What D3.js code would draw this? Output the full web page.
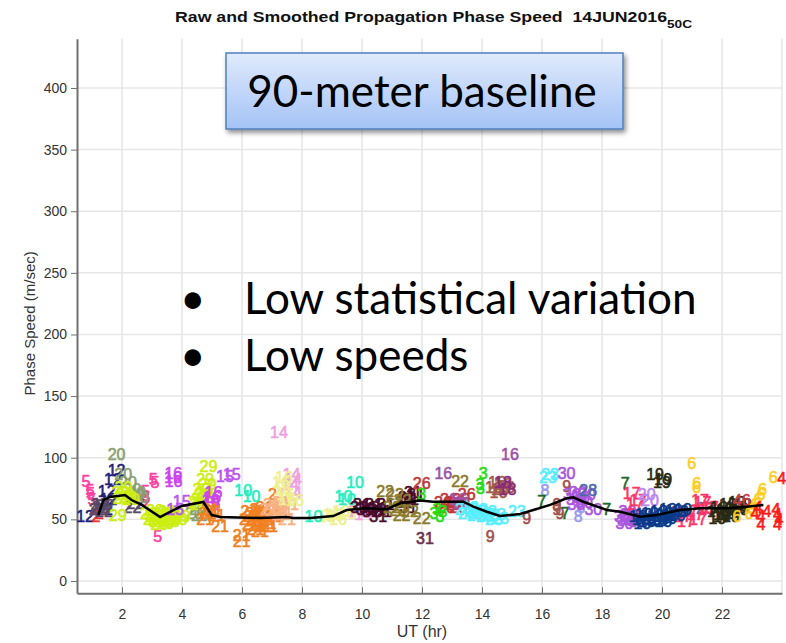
<!DOCTYPE html>
<html>
<head>
<meta charset="utf-8">
<script src="https://cdn.jsdelivr.net/npm/d3@7"></script>
<style>
  body { margin: 0; background: #fff; }
  svg { display: block; }
</style>
</head>
<body>
<div id="chart"></div>
<script>
// chart values
const xTicks = [2, 4, 6, 8, 10, 12, 14, 16, 18, 20, 22];
const yTicks = [0, 50, 100, 150, 200, 250, 300, 350, 400];

// smoothed phase speed (black line)
const smoothTime = [1.21, 1.38, 1.6, 2.1, 2.32, 2.66, 3.27, 3.6, 3.99, 4.71, 4.99, 5.27, 6.6, 7.49, 7.7, 8.27,
  9.04, 9.49, 10.16, 10.82, 11.27, 11.93, 12.38, 13.38, 13.71, 14.16, 14.6, 15.27, 15.71, 16.27,
  16.82, 17.04, 17.38, 18.16, 18.6, 19.27, 19.82, 20.6, 21.27, 22.16, 22.82, 23.38];
const smoothSpeed = [53.5, 65.7, 68.2, 69.8, 65.7, 61.7, 51.9, 56, 60.9, 64.1, 53.5, 51.9, 51.1, 51.9, 51.1, 51.1,
  52.7, 57.6, 59, 58.2, 63, 65.2, 64.3, 64.3, 60.3, 56.2, 52.7, 54.4, 57.6, 61.7,
  67.1, 67.9, 64.3, 57.6, 56.2, 52.2, 53.5, 57.6, 59, 59, 60.3, 61.7];

// raw speeds, one list of [UT hr, m/s] per plotted label
const seriesLabels = ["12", "2", "5", "22", "20", "29", "16", "15", "21", "21", "14", "16", "10", "31", "22", "31",
  "26", "3", "16", "16", "18", "23", "9", "8", "7", "30", "28", "17", "20", "19", "19", "6", "46", "4"];
const seriesPoints = [
  [[0.77, 52.7], [1.49, 72.5], [1.7, 82], [1.82, 90], [1.3, 62], [1.4, 58], [1.55, 66]],
  [[1.13, 52.7], [1.25, 55], [1.05, 58]],
  [[0.8, 80.6], [0.93, 73.8], [0.95, 70.6], [1.0, 66], [3.04, 82], [3.1, 80], [2.77, 72.5], [2.72, 65], [2.8, 68], [3.19, 36]],
  [[1.2, 58], [1.3, 60], [1.4, 56], [1.45, 61], [1.25, 62], [2.35, 60], [2.45, 63]],
  [[1.82, 102.8], [2.04, 86], [2.2, 80], [2.35, 74], [2.5, 72], [2.45, 70], [2.6, 68], [4.4, 55], [4.5, 58], [4.6, 53]],
  [[1.86, 53.5], [1.95, 72], [2.05, 76], [2.1, 70], [2.2, 68], [2.3, 66], [2.0, 67], [2.9, 55], [3.0, 50], [3.1, 52],
   [3.2, 48], [3.3, 50], [3.4, 52], [3.5, 49], [3.6, 54], [3.7, 51], [3.8, 55], [3.99, 52], [3.1, 57], [3.3, 55],
   [3.5, 56], [3.05, 54], [3.9, 50], [4.6, 66], [4.7, 70], [4.65, 74], [4.75, 72], [4.8, 68], [4.55, 62],
   [4.88, 92.7], [4.77, 82], [4.85, 78], [3.25, 46], [3.45, 47], [3.65, 48], [3.15, 50], [3.55, 52], [4.5, 64]],
  [[3.71, 87.4], [3.72, 80.6], [3.7, 84], [4.95, 65], [5.0, 68], [5.05, 72], [4.98, 62]],
  [[3.77, 57.6], [3.99, 64.3], [5.43, 84.6], [5.66, 86]],
  [[4.77, 49.5], [5.27, 44.6], [4.85, 55], [4.95, 58], [5.05, 56], [5.15, 53], [5.99, 37.3], [5.99, 32], [7.16, 69.8],
   [6.2, 50], [6.3, 46], [6.4, 55], [6.5, 52], [6.6, 48], [6.7, 56], [6.8, 50], [6.9, 44], [7.0, 54], [6.45, 42],
   [6.55, 58], [6.75, 60], [6.35, 52], [6.85, 47], [7.1, 52], [6.6, 40], [6.25, 56], [6.5, 45], [6.7, 44], [6.4, 49]],
  [[6.9, 58], [7.0, 62], [7.1, 56], [7.2, 60], [7.3, 54], [7.4, 58], [7.5, 50], [7.3, 64], [7.6, 62]],
  [[7.23, 120.7], [7.6, 78], [7.7, 82], [7.7, 72], [7.65, 86], [9.8, 56], [9.95, 60], [10.05, 54]],
  [[7.3, 80], [7.4, 84], [7.35, 74], [7.45, 70], [7.77, 65.7], [7.5, 66], [8.8, 52], [9.0, 54], [9.2, 50], [9.3, 56], [9.1, 53], [9.5, 55]],
  [[6.04, 73.8], [6.32, 68.4], [8.38, 52.2], [9.77, 79.8], [9.38, 68.4], [9.5, 66]],
  [[9.9, 60], [10.0, 62], [10.1, 58], [10.2, 60], [10.3, 56], [10.4, 62], [10.5, 58], [10.6, 60], [10.54, 52.7], [10.7, 56],
   [10.8, 62], [11.4, 64], [11.5, 68], [11.6, 66], [11.7, 72], [11.8, 70], [11.55, 60]],
  [[10.77, 73], [11.1, 69.8], [11.35, 65], [11.32, 53.5], [11.0, 60], [11.99, 50.9], [11.2, 57], [13.27, 80.6], [11.6, 56]],
  [[12.1, 34.6]],
  [[11.99, 79.3], [12.7, 64], [12.8, 60], [12.9, 66], [13.0, 62], [13.1, 64], [13.2, 60], [13.49, 69.8], [13.3, 66]],
  [[11.99, 69.8], [12.4, 55], [12.5, 58], [12.6, 52], [12.7, 56], [14.04, 87.4], [13.93, 78], [13.95, 75]],
  [[12.71, 87.4], [14.93, 102.8], [13.2, 66], [13.3, 63]],
  [[14.4, 76], [14.5, 80], [14.6, 74], [14.7, 78], [14.8, 76], [14.55, 72]],
  [[14.7, 80], [14.85, 74]],
  [[13.4, 58], [13.5, 55], [13.6, 60], [13.7, 56], [13.8, 53], [13.9, 58], [14.0, 55], [14.1, 52], [14.2, 56], [14.3, 53],
   [14.4, 50], [14.5, 54], [14.6, 51], [15.16, 56.2], [16.27, 86], [16.2, 84]],
  [[14.27, 36], [15.49, 50.9], [16.49, 57.6], [16.5, 62], [16.82, 76.5], [16.6, 55]],
  [[16.1, 73.8], [17.21, 52.2], [17.3, 60]],
  [[15.99, 64.3], [16.77, 55], [18.16, 57.6], [18.77, 79.3]],
  [[16.82, 87.4], [17.71, 57.6], [17.0, 70], [17.1, 66], [17.2, 72], [17.3, 68], [17.4, 64], [17.5, 70], [17.15, 62],
   [18.7, 52], [18.8, 49], [18.9, 54], [19.0, 50], [19.1, 52], [19.2, 48], [18.85, 56], [18.75, 47]],
  [[17.54, 73.8], [21.43, 59]],
  [[18.99, 71.2], [19.21, 65.7], [19.1, 62], [20.5, 55], [20.7, 52], [20.9, 56], [21.1, 54], [21.27, 65.7], [21.35, 64],
   [21.5, 58], [21.6, 60], [21.2, 50], [20.8, 48]],
  [[19.49, 69.8], [19.6, 65.7]],
  [[19.2, 52], [19.3, 50], [19.4, 54], [19.5, 51], [19.6, 55], [19.7, 50], [19.8, 53], [19.9, 56], [20.0, 52], [20.1, 55],
   [20.2, 51], [20.3, 54], [20.4, 57], [20.5, 53], [20.6, 56], [19.5, 48], [19.9, 49], [20.2, 58], [19.35, 47], [20.05, 48], [20.7, 58]],
  [[19.77, 86], [20.04, 82], [20.0, 80], [21.8, 56], [21.9, 60], [22.0, 54], [22.1, 58], [22.2, 62], [22.3, 56], [22.4, 60],
   [22.5, 64], [22.6, 58], [22.7, 62], [22.0, 52], [22.3, 52], [21.85, 51], [22.15, 55], [22.55, 60]],
  [[20.99, 95.5], [21.16, 79.3], [21.15, 76], [22.9, 55], [23.0, 58], [23.1, 62], [23.2, 66], [23.3, 70], [23.35, 74], [23.71, 84.1], [22.5, 52]],
  [[22.66, 65.7]],
  [[23.1, 55], [23.2, 60], [23.3, 52], [23.5, 56], [23.8, 58], [23.85, 54], [23.9, 50], [23.85, 46], [23.99, 83.3], [23.3, 46]]
];

const seriesColors = ["#1f1f7a", "#ee3333", "#ff3fa0", "#5a4a6a", "#8aa070", "#ccee11", "#cc44ee", "#bb55ee",
  "#f08020", "#f8b080", "#f0a0e0", "#eef090", "#22eebb", "#4a0a2a", "#8a7a2a", "#6a3050",
  "#c03838", "#22dd11", "#9955aa", "#a05a48", "#8a2a7a", "#55eeff", "#a0524d", "#9a9aee",
  "#1a6b2a", "#aa55dd", "#4a6aa8", "#ff3366", "#bb88ee", "#0a3a8a", "#2a2a12", "#ffcc22", "#c04040", "#ff1a1a"];

const width = 786, height = 643;

const svg = d3.select("#chart").append("svg")
  .attr("width", width)
  .attr("height", height)
  .style("font-family", "'Liberation Sans', Arial, sans-serif");

const x = d3.scaleLinear().domain([0.5, 24]).range([77, 782]);
const y = d3.scaleLinear().domain([-10, 440]).range([593.3, 38.7]);

// grid
svg.append("g").selectAll("line")
  .data(xTicks.concat([24]))
  .join("line")
  .attr("x1", d => x(d)).attr("x2", d => x(d))
  .attr("y1", y(-10)).attr("y2", y(440))
  .attr("stroke", "#e6e6e6").attr("stroke-width", 1.5);

svg.append("g").selectAll("line")
  .data(yTicks)
  .join("line")
  .attr("x1", x(0.5)).attr("x2", x(24))
  .attr("y1", d => y(d)).attr("y2", d => y(d))
  .attr("stroke", "#e6e6e6").attr("stroke-width", 1.5);

// axes
const xAxis = svg.append("g")
  .attr("transform", `translate(0,${y(-10)})`)
  .call(d3.axisBottom(x).tickValues(xTicks).tickSizeInner(-6).tickSizeOuter(0).tickPadding(16));
const yAxis = svg.append("g")
  .attr("transform", `translate(${x(0.5)},0)`)
  .call(d3.axisLeft(y).tickValues(yTicks).tickSize(6).tickSizeOuter(0).tickPadding(4));

[xAxis, yAxis].forEach(a => {
  a.select(".domain").attr("stroke", "#707070").attr("stroke-width", 2);
  a.selectAll(".tick line").attr("stroke", "#707070");
  a.selectAll("text").attr("fill", "#333").style("font-size", "14px")
    .style("font-family", "'Liberation Sans', Arial, sans-serif");
});

// raw labels
const raw = seriesLabels.flatMap((lab, i) =>
  seriesPoints[i].map(p => ({ t: p[0], v: p[1], lab, color: seriesColors[i] })));

svg.append("g").selectAll("text")
  .data(raw)
  .join("text")
  .attr("x", d => x(d.t))
  .attr("y", d => y(d.v))
  .attr("text-anchor", "middle")
  .attr("dominant-baseline", "central")
  .attr("fill", d => d.color)
  .attr("stroke", d => d.color)
  .attr("stroke-width", 0.6)
  .style("font-size", "16px")
  .text(d => d.lab);

// smoothed line
const line = d3.line().x(d => x(d[0])).y(d => y(d[1]));
svg.append("path")
  .datum(smoothTime.map((t, i) => [t, smoothSpeed[i]]))
  .attr("d", line)
  .attr("fill", "none")
  .attr("stroke", "#000")
  .attr("stroke-width", 2.5);

// title
const title = svg.append("text")
  .attr("x", 175).attr("y", 22)
  .style("font-size", "14.5px").style("font-weight", "bold")
  .attr("fill", "#111");
title.append("tspan")
  .attr("textLength", 492).attr("lengthAdjust", "spacingAndGlyphs")
  .text("Raw and Smoothed Propagation Phase Speed\u00a0\u00a014JUN2016");
title.append("tspan").attr("dy", 6).style("font-size", "11px")
  .attr("textLength", 25).attr("lengthAdjust", "spacingAndGlyphs").text("50C");

// axis labels
svg.append("text")
  .attr("x", 422).attr("y", 637)
  .attr("text-anchor", "middle")
  .attr("fill", "#333").style("font-size", "16px")
  .text("UT (hr)");

svg.append("text")
  .attr("transform", `translate(35,${y(209)}) rotate(-90)`)
  .attr("text-anchor", "middle")
  .attr("fill", "#333").style("font-size", "15px")
  .text("Phase Speed (m/sec)");

// annotation box
const defs = svg.append("defs");
const grad = defs.append("linearGradient").attr("id", "boxFill")
  .attr("x1", 0).attr("y1", 0).attr("x2", 0).attr("y2", 1);
grad.append("stop").attr("offset", "0%").attr("stop-color", "#e0eafc");
grad.append("stop").attr("offset", "100%").attr("stop-color", "#a4c3f6");
const shadow = defs.append("filter").attr("id", "shadow")
  .attr("x", "-10%").attr("y", "-10%").attr("width", "130%").attr("height", "140%");
shadow.append("feDropShadow").attr("dx", 2).attr("dy", 3).attr("stdDeviation", 2.5)
  .attr("flood-color", "#000").attr("flood-opacity", 0.45);

svg.append("rect")
  .attr("x", 226).attr("y", 53).attr("width", 397).attr("height", 76)
  .attr("fill", "url(#boxFill)")
  .attr("stroke", "#4f81bd").attr("stroke-width", 1.5)
  .attr("filter", "url(#shadow)");

svg.append("text")
  .attr("x", 422).attr("y", 107)
  .attr("text-anchor", "middle")
  .style("font-family", "Lato, 'Open Sans', sans-serif")
  .style("font-size", "44px")
  .attr("fill", "#000")
  .text("90-meter baseline");

// bullets
const bullets = ["Low statistical variation", "Low speeds"];
const bl = svg.append("g").style("font-family", "Lato, 'Open Sans', sans-serif").style("font-size", "44px");
bullets.forEach((b, i) => {
  bl.append("text").attr("x", 180).attr("y", 314 + i * 57).text("\u2022");
  bl.append("text").attr("x", 244).attr("y", 314 + i * 57).text(b);
});
</script>
</body>
</html>
